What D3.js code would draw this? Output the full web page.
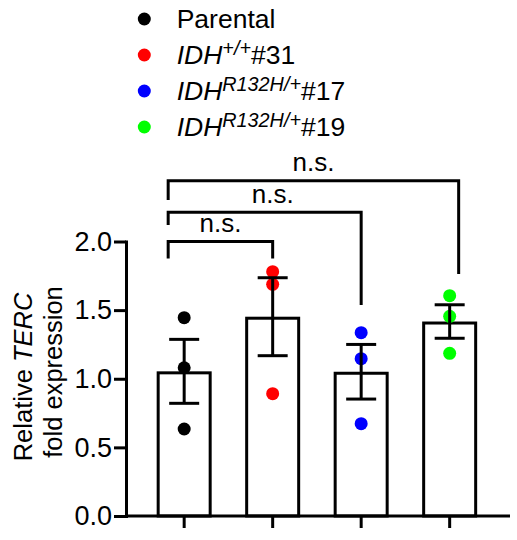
<!DOCTYPE html>
<html>
<head>
<meta charset="utf-8">
<script src="https://cdn.jsdelivr.net/npm/d3@7"></script>
<style>
  body { margin: 0; background: #fff; }
  svg text { font-family: Arial, "Liberation Sans", sans-serif; fill: #000; }
</style>
</head>
<body>
<div id="chart"></div>
<script>
// groups and legend pieces
const groups = ["Parental", "IDH+/+#31", "IDHR132H/+#17", "IDHR132H/+#19"];
const legendMain = ["Parental", "IDH", "IDH", "IDH"];
const legendSup = ["", "+/+", "R132H/+", "R132H/+"];
const legendTail = ["", "#31", "#17", "#19"];
const colors = ["#000000", "#ff0000", "#0000ff", "#00ff00"];

// values
const means = [1.054, 1.452, 1.051, 1.417];
const sems = [0.233, 0.284, 0.199, 0.122];
const points = [
  [1.445, 1.08, 0.634],
  [1.78, 1.688, 0.891],
  [1.336, 1.146, 0.673],
  [1.605, 1.455, 1.185]
];
const yTicks = [0, 0.5, 1.0, 1.5, 2.0];

// significance brackets (data units)
const sigPairs = [[0, 1], [0, 2], [0, 3]];
const sigLabels = ["n.s.", "n.s.", "n.s."];
const sigLevels = [2.0, 2.213, 2.443];
const sigLeftEnd = [1.877, 2.12, 2.302];
const sigRightEnd = [1.877, 1.537, 1.763];

const W = 517, H = 540;
const svg = d3.select("#chart").append("svg")
  .attr("width", W).attr("height", H);

const x = d3.scaleBand()
  .domain(groups)
  .range([126, 510])
  .paddingInner(0.3785)
  .paddingOuter(0.3588)
  .align(0.483);
const y = d3.scaleLinear().domain([0, 2]).range([516, 241.5]);
const cx = d => x(d) + x.bandwidth() / 2;

// bars (stroke sits inside the bar top)
svg.selectAll(".bar")
  .data(groups)
  .enter().append("rect")
  .attr("x", d => x(d) + 1.5)
  .attr("y", (d, i) => y(means[i]) + 1.5)
  .attr("width", x.bandwidth() - 3)
  .attr("height", (d, i) => y(0) - y(means[i]) - 1.5)
  .attr("fill", "#fff")
  .attr("stroke", "#000")
  .attr("stroke-width", 3);

// points
groups.forEach((g, i) => {
  svg.selectAll(null)
    .data(points[i])
    .enter().append("circle")
    .attr("cx", cx(g))
    .attr("cy", d => y(d))
    .attr("r", 6.5)
    .attr("fill", colors[i]);
});

// error bars
const capHalf = 15;
groups.forEach((g, i) => {
  const hi = y(means[i] + sems[i]), lo = y(means[i] - sems[i]);
  const e = svg.append("g").attr("stroke", "#000").attr("stroke-width", 3);
  e.append("line").attr("x1", cx(g)).attr("x2", cx(g)).attr("y1", hi).attr("y2", lo);
  e.append("line").attr("x1", cx(g) - capHalf).attr("x2", cx(g) + capHalf).attr("y1", hi).attr("y2", hi);
  e.append("line").attr("x1", cx(g) - capHalf).attr("x2", cx(g) + capHalf).attr("y1", lo).attr("y2", lo);
});

// y axis
const yAxis = svg.append("g")
  .attr("transform", "translate(126,0)")
  .call(d3.axisLeft(y).tickValues(yTicks).tickFormat(d3.format(".1f"))
    .tickSize(12).tickSizeOuter(0).tickPadding(2));
yAxis.select(".domain").attr("stroke-width", 3).attr("stroke-linecap", "square");
yAxis.selectAll(".tick line").attr("stroke-width", 3);
yAxis.selectAll(".tick text").attr("font-size", 27).attr("font-family", null);

// x axis: baseline across full width, ticks at group centres
svg.append("line")
  .attr("x1", 126).attr("x2", 510)
  .attr("y1", y(0)).attr("y2", y(0))
  .attr("stroke", "#000").attr("stroke-width", 3);
const xAxis = svg.append("g")
  .attr("transform", `translate(0,${y(0)})`)
  .call(d3.axisBottom(x).tickSize(12).tickSizeOuter(0).tickFormat(""));
xAxis.select(".domain").remove();
xAxis.selectAll(".tick line").attr("stroke-width", 3);

// axis title
const t1 = svg.append("text")
  .attr("transform", "translate(31.5,377) rotate(-90)")
  .attr("text-anchor", "middle").attr("font-size", 25.5);
t1.append("tspan").text("Relative ");
t1.append("tspan").attr("font-style", "italic").text("TERC");
svg.append("text")
  .attr("transform", "translate(61.5,372) rotate(-90)")
  .attr("text-anchor", "middle").attr("font-size", 25.5)
  .text("fold expression");

// significance brackets
const legLeftShift = -16, legRightShift = [0, 0, 9], labelShift = [0, 8, 0];
sigPairs.forEach((p, i) => {
  const xa = cx(groups[p[0]]) + legLeftShift;
  const xb = cx(groups[p[1]]) + legRightShift[i];
  const yl = y(sigLevels[i]);
  svg.append("path")
    .attr("d", `M${xa},${y(sigLeftEnd[i])}V${yl}H${xb}V${y(sigRightEnd[i])}`)
    .attr("fill", "none").attr("stroke", "#000").attr("stroke-width", 3);
  svg.append("text")
    .attr("x", (xa + xb) / 2 + labelShift[i])
    .attr("y", yl - 9.5)
    .attr("text-anchor", "middle").attr("font-size", 26)
    .text(sigLabels[i]);
});

// legend
const legend = svg.append("g");
groups.forEach((g, i) => {
  const ry = 19 + i * 36;
  legend.append("circle").attr("cx", 144.3).attr("cy", ry).attr("r", 6.5).attr("fill", colors[i]);
  const t = legend.append("text").attr("x", 176.7).attr("y", ry + 9).attr("font-size", 26.5);
  if (!legendSup[i]) {
    t.text(legendMain[i]);
  } else {
    t.append("tspan").attr("font-style", "italic").text(legendMain[i]);
    t.append("tspan").attr("font-style", "italic").attr("font-size", 19.8)
      .attr("dy", -9).text(legendSup[i]);
    t.append("tspan").attr("dy", 9).text(legendTail[i]);
  }
});
</script>
</body>
</html>
